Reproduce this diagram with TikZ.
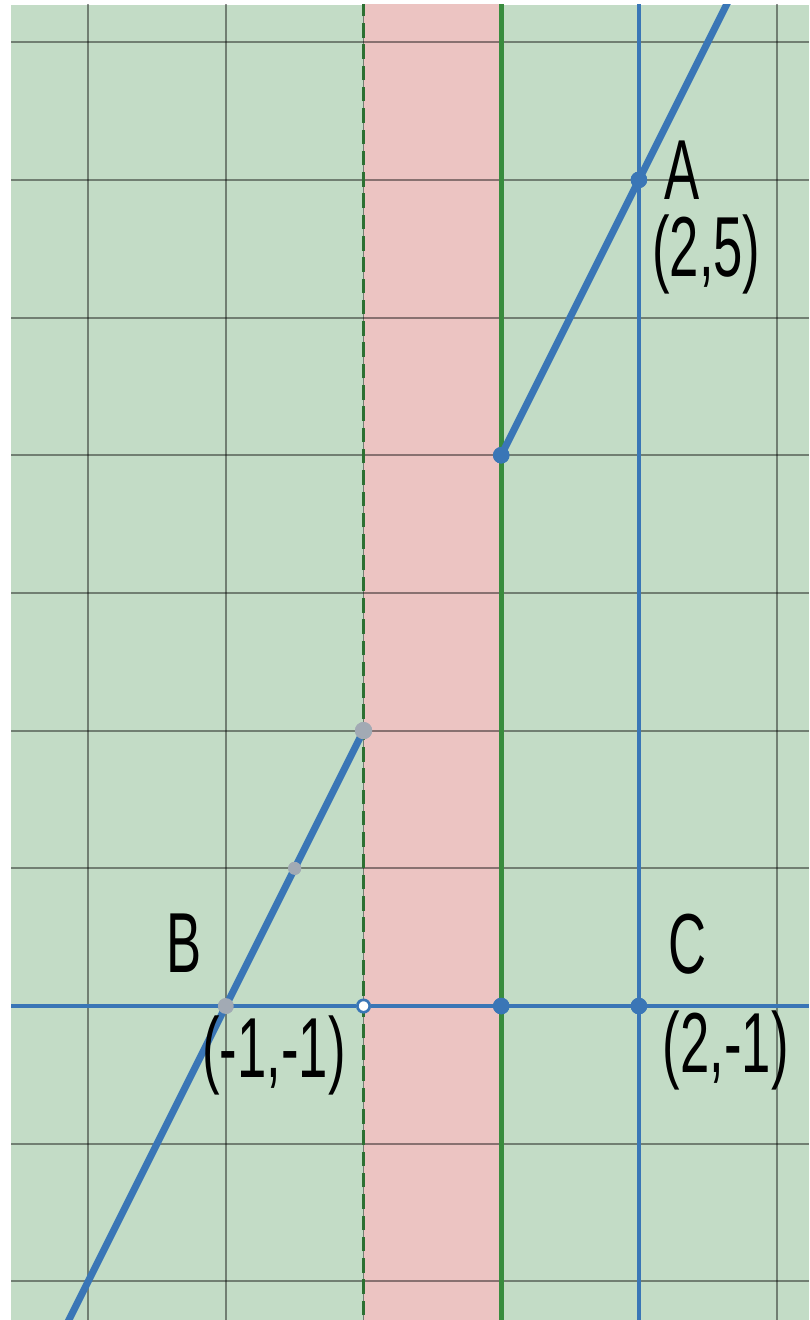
\documentclass[tikz,border=0pt]{standalone}
\usepackage{fontspec}
\setmainfont{Liberation Sans}
\usetikzlibrary{positioning}
\definecolor{paper}{RGB}{195,220,198}
\definecolor{band}{RGB}{236,196,194}
\definecolor{lineblue}{RGB}{58,118,182}
\definecolor{edgegreen}{RGB}{56,140,62}
\definecolor{ptgrey}{RGB}{162,170,180}
\newcommand{\scrawl}[1]{\scalebox{0.68}[1.1]{#1}}

\begin{document}
\begin{tikzpicture}[
  dot/.style={circle, fill=lineblue, inner sep=0pt, minimum size=1.2mm},
  ghost/.style={circle, fill=ptgrey, inner sep=0pt, minimum size=1.15mm},
  hole/.style={circle, draw=lineblue, line width=0.55pt, fill=white, inner sep=0pt, minimum size=0.9mm},
  hand/.style={font=\fontsize{16}{16}\selectfont, inner sep=0pt},
  ray/.style={lineblue, line width=1.45pt},
  axisline/.style={lineblue, line width=1pt},
  gridline/.style={black, opacity=0.42, line width=0.4pt}
]
  \useasboundingbox (-2.640,-3.280) rectangle (3.235,6.306);
  \fill[paper] (-2.560,-3.280) rectangle (3.235,6.270);
  \begin{scope}
  \clip (-2.560,-3.280) rectangle (3.235,6.270);
  % excluded strip
  \fill[band] (0,-3.4) rectangle (1,6.4);
  \foreach \x in {-2,...,3}
    \draw[gridline] (\x,-3.4) -- (\x,6.4);
  \foreach \y in {-3,...,6}
    \draw[gridline] (-2.6,\y) -- (3.3,\y);
  \draw[edgegreen!80!black, line width=0.6pt, dash pattern=on 3pt off 1.4pt] (0,-3.4) -- (0,6.4);
  \draw[edgegreen, line width=1pt] (1,-3.4) -- (1,6.4);

  \coordinate (lowend) at (-2.5,-4);
  \coordinate (topend) at (3,7);
  \coordinate (west) at (-2.6,-1);
  \coordinate (east) at (3.3,-1);
  \coordinate (south) at (2,-3.4);
  \coordinate (north) at (2,6.4);

  \node[ghost] (B) at (-1,-1) {};
  \node[ghost, minimum size=1.25mm] (top) at (0,1) {};
  \node[ghost, minimum size=0.95mm] (mid) at (-0.5,0) {};
  \node[hole] (gap) at (0,-1) {};
  \node[dot] (foot) at (1,-1) {};
  \node[dot] (C) at (2,-1) {};
  \node[dot] (start) at (1,3) {};
  \node[dot] (A) at (2,5) {};

  \draw[axisline] (west) -- (gap.west);
  \draw[axisline] (gap.east) -- (east);
  \draw[axisline] (south) -- (north);
  \draw[ray] (lowend) -- (top.center);
  \draw[ray] (start.center) -- (topend);

  \node[ghost] at (B) {};
  \node[ghost, minimum size=1.25mm] at (top) {};
  \node[ghost, minimum size=0.95mm] at (mid) {};
  \node[dot] at (foot) {};
  \node[dot] at (C) {};
  \node[dot] at (start) {};
  \node[dot] at (A) {};
  \end{scope}

  \node[hand] (nameA) at (2.31,5.07) {\scrawl{A}};
  \node[hand] (posA) at (2.49,4.46) {\scrawl{(2,5)}};
  \node[hand] (nameB) at (-1.30,-0.54) {\scrawl{B}};
  \node[hand] (posB) at (-0.65,-1.36) {\scrawl{(-1,-1)}};
  \node[hand] (nameC) at (2.35,-0.55) {\scrawl{C}};
  \node[hand] (posC) at (2.63,-1.32) {\scrawl{(2,-1)}};
\end{tikzpicture}
\end{document}
